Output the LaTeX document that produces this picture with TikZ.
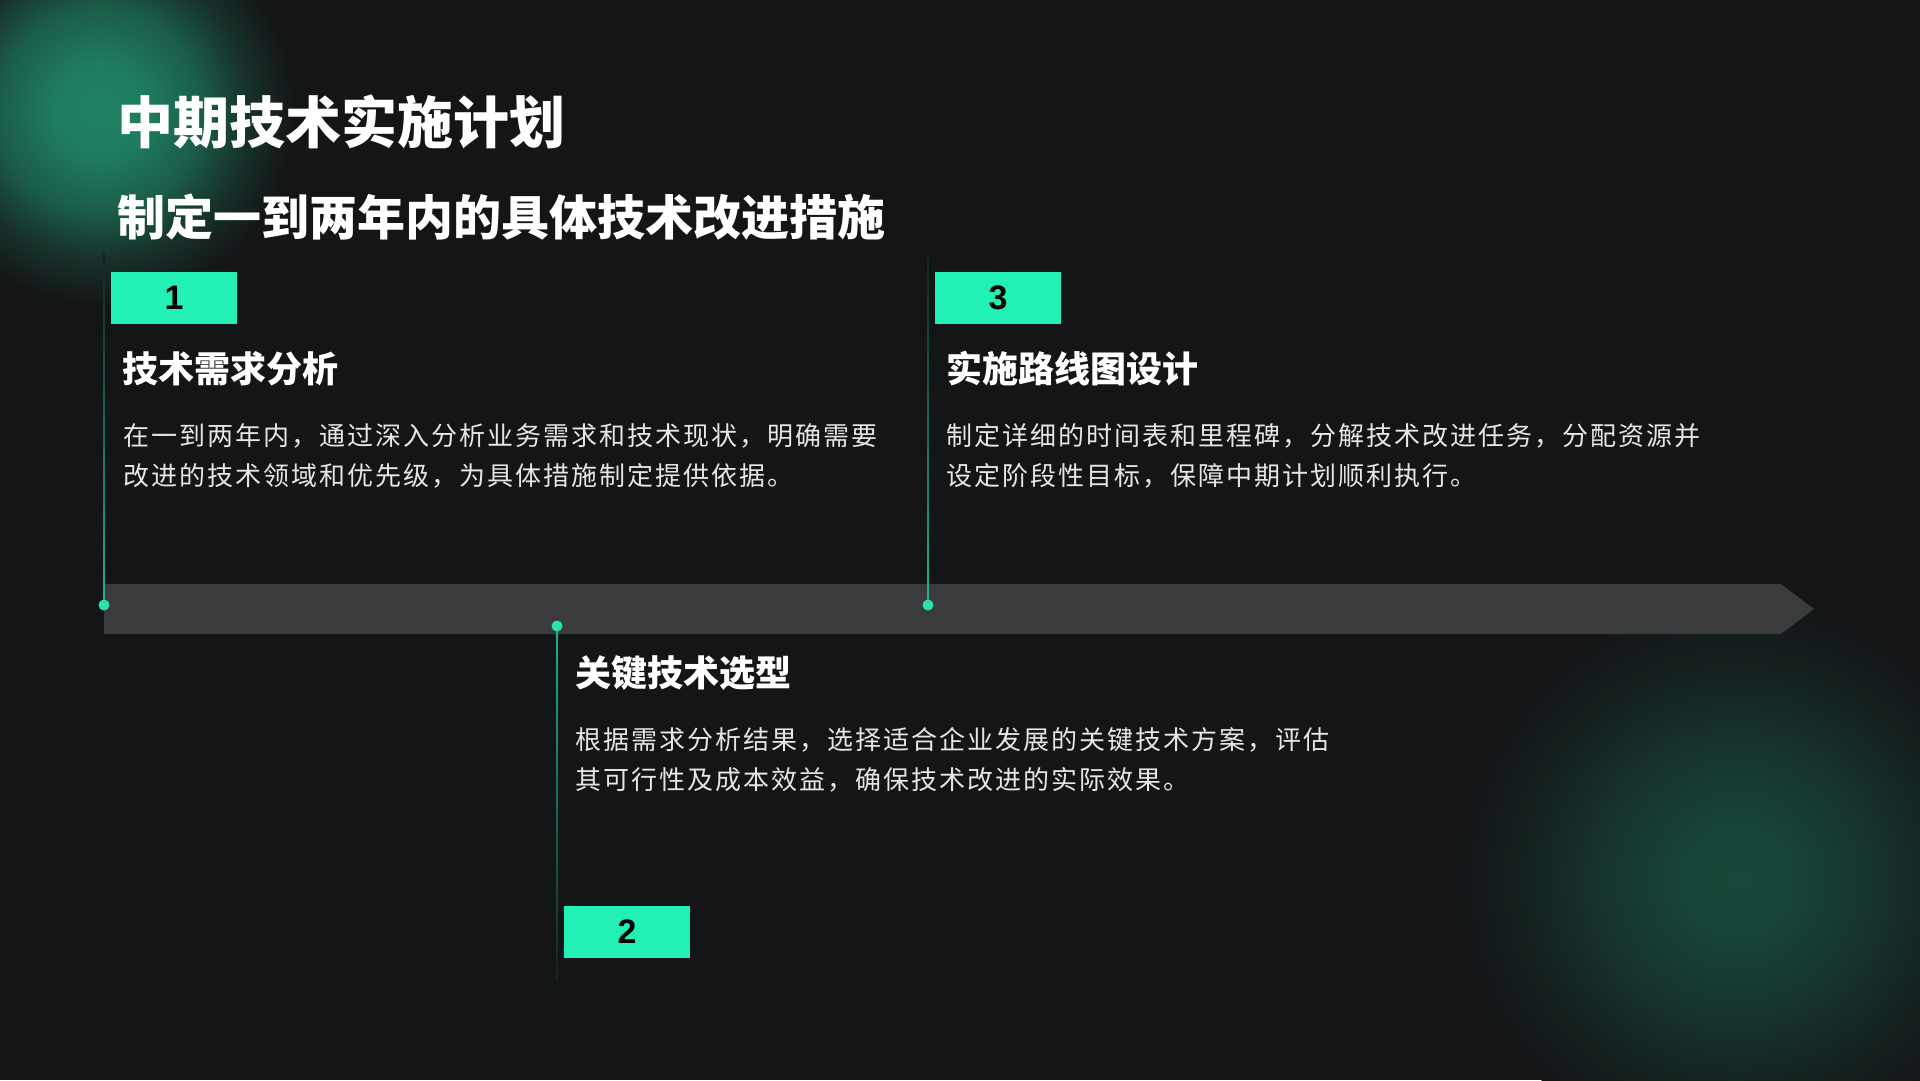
\documentclass[tikz,border=0pt]{standalone}
\usepackage{fontspec}
\setmainfont{Noto Sans CJK SC}
\newfontfamily\bodyfont{Noto Sans CJK SC}[LetterSpace=7.7]
\newfontfamily\numfont{Liberation Sans}
\definecolor{bg}{HTML}{141517}
\definecolor{bandc}{HTML}{3A3B3D}
\definecolor{mint}{HTML}{22F0B4}
\definecolor{dotc}{HTML}{2DE3AC}
\definecolor{linec}{HTML}{1DB587}
\definecolor{glowA}{HTML}{1F8264}
\definecolor{glowB}{HTML}{17473A}
\definecolor{bodyc}{HTML}{E6E6E6}
\pgfdeclareradialshading{glowa}{\pgfpoint{0bp}{0bp}}{color(0bp)=(glowA); color(6bp)=(glowA!94!bg); color(13bp)=(glowA!66!bg); color(19bp)=(glowA!26!bg); color(25bp)=(bg); color(50bp)=(bg)}
\pgfdeclareradialshading{glowb}{\pgfpoint{0bp}{0bp}}{color(0bp)=(glowB); color(5bp)=(glowB!94!bg); color(12bp)=(glowB!62!bg); color(19bp)=(glowB!25!bg); color(25bp)=(bg); color(50bp)=(bg)}
\begin{document}
\begin{tikzpicture}[x=1pt,y=-1pt,
  numbox/.style={fill=mint, minimum width=126pt, minimum height=52pt, inner sep=0pt, text=black,
    font=\numfont\bfseries\fontsize{34}{34}\selectfont},
  dotn/.style={circle, fill=dotc, minimum size=11pt, inner sep=0pt},
  titletext/.style={anchor=west, inner sep=0pt, text=white, font=\bfseries\fontsize{56}{60}\selectfont},
  subtext/.style={anchor=west, inner sep=0pt, text=white, font=\bfseries\fontsize{48}{52}\selectfont},
  headtext/.style={anchor=west, inner sep=0pt, text=white, font=\bfseries\fontsize{36}{40}\selectfont},
  bodytext/.style={anchor=west, inner sep=0pt, text=bodyc, font=\bodyfont\fontsize{26}{30}\selectfont}]
\useasboundingbox (0,0) rectangle (1920,1080);
\clip (0,0) rectangle (1920,1080);
\fill[bg] (0,0) rectangle (1920,1080);
% glows
\shade[shading=glowa] (100,110) circle[radius=195pt];
\shade[shading=glowb] (1737,880) circle[radius=280pt];
% timeline band
\fill[bandc] (104,584) -- (1781,584) -- (1814,609) -- (1781,634) -- (104,634) -- cycle;
% vertical connectors
\coordinate (t1) at (104,253);
\coordinate (t3) at (928,253);
\coordinate (t2) at (557,980);
\shade[top color=linec!8!bg, bottom color=linec] (103.3,253) rectangle (104.7,605);
\shade[top color=linec!8!bg, bottom color=linec] (927.3,253) rectangle (928.7,605);
\shade[top color=linec, bottom color=linec!8!bg] (556.3,626) rectangle (557.7,980);
% dots
\node[dotn] (d1) at (104,605) {};
\node[dotn] (d3) at (928,605) {};
\node[dotn] (d2) at (557,626) {};
% number boxes
\node[numbox] (n1) at (174,298) {1};
\node[numbox] (n3) at (998,298) {3};
\node[numbox] (n2) at (627,931.5) {2};
% titles
\node[titletext] (title) at (117,122) {中期技术实施计划};
\node[subtext] (subtitle) at (117,217) {制定一到两年内的具体技术改进措施};
% item 1
\node[headtext] (h1) at (122,369) {技术需求分析};
\node[bodytext] (b1a) at (123,436) {在一到两年内，通过深入分析业务需求和技术现状，明确需要};
\node[bodytext] (b1b) at (123,476) {改进的技术领域和优先级，为具体措施制定提供依据。};
% item 3
\node[headtext] (h3) at (946,369) {实施路线图设计};
\node[bodytext] (b3a) at (946,436) {制定详细的时间表和里程碑，分解技术改进任务，分配资源并};
\node[bodytext] (b3b) at (946,476) {设定阶段性目标，保障中期计划顺利执行。};
% item 2
\node[headtext] (h2) at (575,673) {关键技术选型};
\node[bodytext] (b2a) at (575,740) {根据需求分析结果，选择适合企业发展的关键技术方案，评估};
\node[bodytext] (b2b) at (575,780) {其可行性及成本效益，确保技术改进的实际效果。};
\end{tikzpicture}
\end{document}
